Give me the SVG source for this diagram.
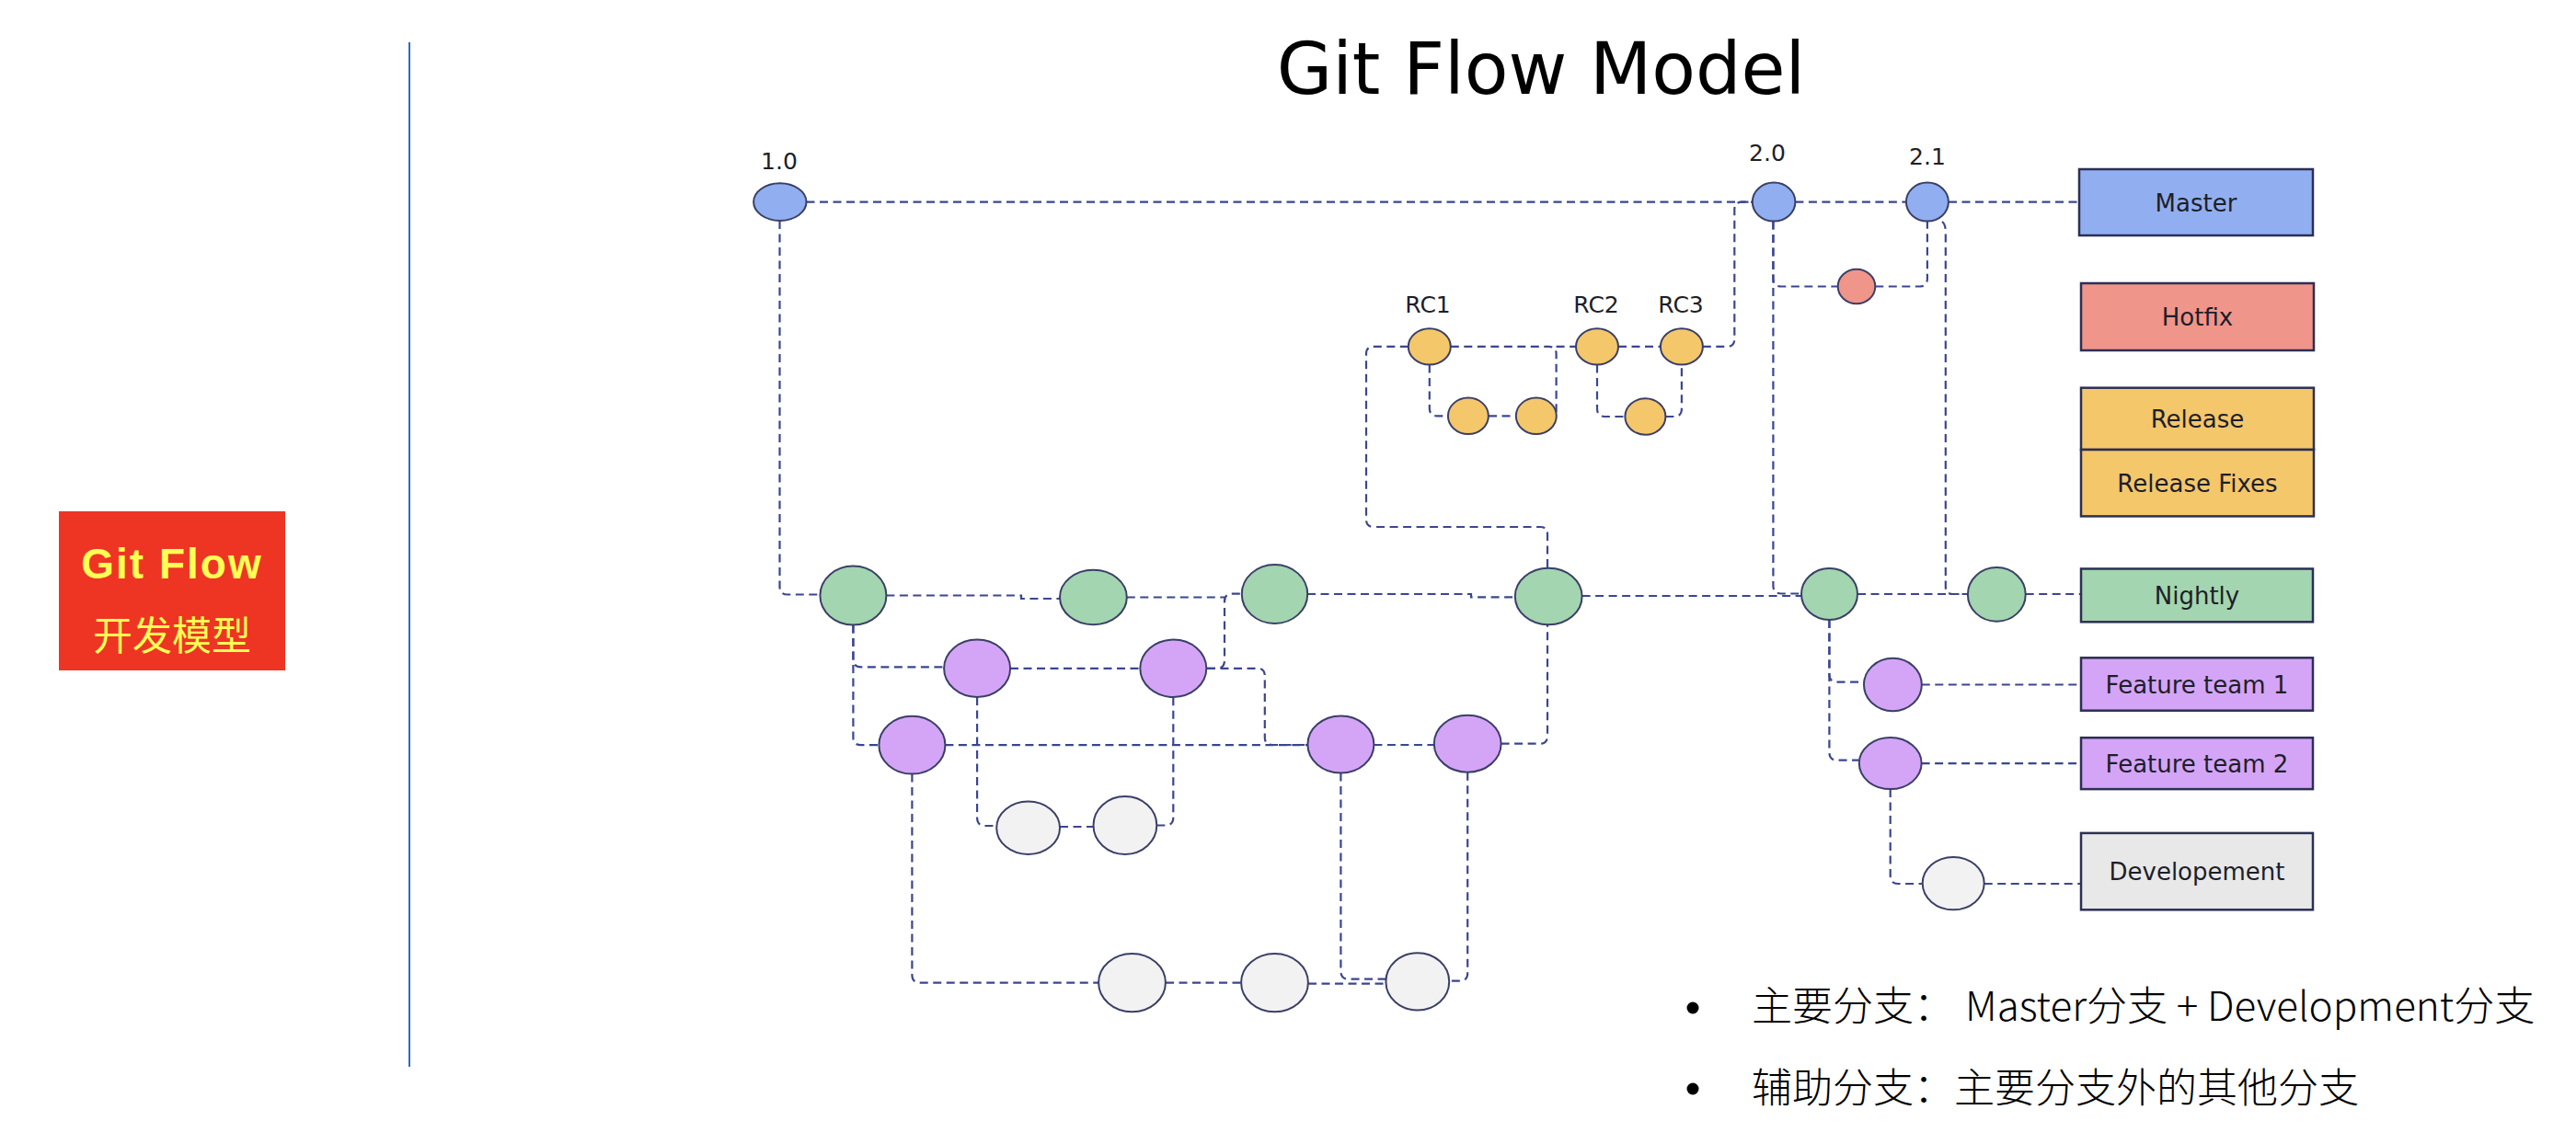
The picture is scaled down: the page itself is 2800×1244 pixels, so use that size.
<svg xmlns="http://www.w3.org/2000/svg" width="2800" height="1244" viewBox="0 0 2800 1244">
<style>
.c{fill:none;stroke:#3B4690;stroke-width:2.2;stroke-dasharray:9 5.5}
.n{stroke:#3A3F66;stroke-width:2}
.blue{fill:#91AFF0}.red{fill:#F0958A}.yel{fill:#F4C76B}.grn{fill:#A2D5B0}.pur{fill:#D4A5F7}.gry{fill:#F2F2F2}
.box{stroke:#2C2F55;stroke-width:2.5}
.bt{font-family:"DejaVu Sans",Verdana,sans-serif;font-size:26px;fill:#1E1E2A;text-anchor:middle}
.lb{font-family:"DejaVu Sans",Verdana,sans-serif;font-size:25px;fill:#1E1E2A;text-anchor:middle}
.cn{font-family:"Noto Sans CJK SC",sans-serif;font-size:44px;font-weight:300;fill:#000}
</style>
<rect width="2800" height="1244" fill="#fff"/>
<line x1="445" y1="46" x2="445" y2="1160" stroke="#2E6BC4" stroke-width="2"/>
<g id="tag">
<rect x="64" y="556" width="246" height="173" fill="#EE3524"/>
<text x="187" y="629" text-anchor="middle" font-family="Liberation Sans,Arial,sans-serif" font-weight="bold" font-size="46" letter-spacing="2" fill="#FFFF55">Git Flow</text>
<text x="187" y="707" text-anchor="middle" font-family="Noto Sans CJK SC,sans-serif" font-size="43" fill="#FFFF55">开发模型</text>
</g>
<text x="1675" y="102" text-anchor="middle" font-family="DejaVu Sans,Verdana,sans-serif" font-size="78" fill="#000">Git Flow Model</text>
<g id="connectors">
<path class="c" d="M876.5,219.6 H1904.8"/>
<path class="c" d="M1951.4,219.6 H2072"/>
<path class="c" d="M2118,219.6 H2261"/>
<path class="c" d="M847.5,240 V638 Q847.5,646.5 856,646.5 H891.4"/>
<path class="c" d="M963.4,647.5 H1110 V651 H1152"/>
<path class="c" d="M1224.8,649.5 H1331"/>
<path class="c" d="M1312,726.8 H1323 Q1331,726.8 1331,718 V654 Q1331,645.7 1339,645.7 H1349.8"/>
<path class="c" d="M1312,726.8 H1367 Q1374.8,726.8 1374.8,735 V802 Q1374.8,810 1383,810 H1421"/>
<path class="c" d="M1421,646 H1599 V649.4 H1646.8"/>
<path class="c" d="M1719.6,648 H1958"/>
<path class="c" d="M2019,646 H2139"/>
<path class="c" d="M2201.7,646 H2261"/>
<path class="c" d="M2111,241 Q2114.8,244 2114.8,252 V638 Q2114.8,646 2123,646 H2139"/>
<path class="c" d="M1927.4,240.6 V637 Q1927.4,645.5 1936,645.5 H1958"/>
<path class="c" d="M1927.4,240.6 V303 Q1927.4,311.5 1936,311.5 H1998"/>
<path class="c" d="M2038.3,311.5 H2086 Q2094.9,311.5 2094.9,303 V240.6"/>
<path class="c" d="M927.4,679.5 V717 Q927.4,725.3 936,725.3 H1026"/>
<path class="c" d="M927.4,679.5 V802 Q927.4,810.2 936,810.2 H955.4"/>
<path class="c" d="M1098,726.8 H1239.3"/>
<path class="c" d="M1027.4,810.2 H1421.4"/>
<path class="c" d="M1062.1,758 V889 Q1062.1,898 1070.5,898 H1083.2"/>
<path class="c" d="M1152,899 H1188.5"/>
<path class="c" d="M1257.3,897.5 H1267 Q1275.3,897.5 1275.3,889 V758"/>
<path class="c" d="M991.4,841.6 V1060 Q991.4,1068.6 1000,1068.6 H1194"/>
<path class="c" d="M1267,1068.6 H1349"/>
<path class="c" d="M1422,1069.7 H1506.4"/>
<path class="c" d="M1493.4,810 H1558.8"/>
<path class="c" d="M1457.4,840.5 V1056 Q1457.4,1064.7 1466,1064.7 H1507"/>
<path class="c" d="M1595.2,839.7 V1058 Q1595.2,1066.6 1587,1066.6 H1575.2"/>
<path class="c" d="M1631.6,808.7 H1674 Q1682,808.7 1682,800 V679.5"/>
<path class="c" d="M1530.8,376.9 H1493 Q1485,376.9 1485,385 V565 Q1485,573 1493,573 H1674 Q1682,573 1682,581 V617.9"/>
<path class="c" d="M1576.8,376.9 H1683 Q1691.6,376.9 1691.6,385 V452.3"/>
<path class="c" d="M1691.6,376.9 H1713"/>
<path class="c" d="M1553.8,396.6 V444 Q1553.8,452.3 1562,452.3 H1574"/>
<path class="c" d="M1618,452.3 H1648"/>
<path class="c" d="M1759,376.9 H1805"/>
<path class="c" d="M1736,396.6 V444 Q1736,453 1744,453 H1766.4"/>
<path class="c" d="M1810.4,453 H1819.5 Q1827.9,453 1827.9,444.5 V396.6"/>
<path class="c" d="M1850.8,376.9 H1877 Q1885.3,376.9 1885.3,368.5 V228 Q1885.3,219.6 1893.5,219.6 H1904.8"/>
<path class="c" d="M1988.4,674 V733 Q1988.4,741.7 1997,741.7 H2026"/>
<path class="c" d="M1988.4,674 V818 Q1988.4,826.7 1997,826.7 H2020.8"/>
<path class="c" d="M2088.8,744.5 H2261"/>
<path class="c" d="M2088.6,830.1 H2261"/>
<path class="c" d="M2054.7,858 V952 Q2054.7,961 2063,961 H2089.7"/>
<path class="c" d="M2156.7,961 H2261"/>
</g>
<g id="v10"><ellipse class="n blue" cx="847.8" cy="219.6" rx="28.7" ry="20.3"/><text class="lb" x="847" y="184">1.0</text></g>
<g id="v20"><ellipse class="n blue" cx="1928.1" cy="219.6" rx="23.3" ry="21"/><text class="lb" x="1921" y="175">2.0</text></g>
<g id="v21"><ellipse class="n blue" cx="2094.9" cy="219.6" rx="23" ry="21"/><text class="lb" x="2095" y="179">2.1</text></g>
<g id="hotfix1"><ellipse class="n red" cx="2018" cy="311.5" rx="20.3" ry="18.8"/></g>
<g id="rc1"><ellipse class="n yel" cx="1553.8" cy="376.9" rx="23" ry="19.7"/><text class="lb" x="1552" y="340">RC1</text></g>
<g id="rc2"><ellipse class="n yel" cx="1736" cy="376.9" rx="23" ry="19.7"/><text class="lb" x="1735" y="340">RC2</text></g>
<g id="rc3"><ellipse class="n yel" cx="1827.9" cy="376.9" rx="23" ry="19.7"/><text class="lb" x="1827" y="340">RC3</text></g>
<g id="fix1"><ellipse class="n yel" cx="1595.9" cy="452.3" rx="22" ry="19.7"/></g>
<g id="fix2"><ellipse class="n yel" cx="1669.8" cy="452.3" rx="22" ry="19.7"/></g>
<g id="fix3"><ellipse class="n yel" cx="1788.4" cy="453" rx="22" ry="19.7"/></g>
<g id="g1"><ellipse class="n grn" cx="927.4" cy="647.6" rx="36" ry="32"/></g>
<g id="g2"><ellipse class="n grn" cx="1188.4" cy="649.5" rx="36.4" ry="29.7"/></g>
<g id="g3"><ellipse class="n grn" cx="1385.5" cy="646" rx="35.7" ry="32"/></g>
<g id="g4"><ellipse class="n grn" cx="1683.2" cy="648.5" rx="36.4" ry="30.8"/></g>
<g id="g5"><ellipse class="n grn" cx="1988.5" cy="646" rx="30.5" ry="28"/></g>
<g id="g6"><ellipse class="n grn" cx="2170.3" cy="646.4" rx="31.4" ry="29.3"/></g>
<g id="p1"><ellipse class="n pur" cx="1062.1" cy="726.8" rx="36" ry="31.2"/></g>
<g id="p2"><ellipse class="n pur" cx="1275.3" cy="726.8" rx="36" ry="31.2"/></g>
<g id="p3"><ellipse class="n pur" cx="991.4" cy="810.2" rx="36" ry="31.4"/></g>
<g id="p4"><ellipse class="n pur" cx="1457.4" cy="809.5" rx="36" ry="31"/></g>
<g id="p5"><ellipse class="n pur" cx="1595.2" cy="808.7" rx="36.4" ry="31"/></g>
<g id="p6"><ellipse class="n pur" cx="2057.4" cy="744.5" rx="31.4" ry="28.7"/></g>
<g id="p7"><ellipse class="n pur" cx="2054.7" cy="830.1" rx="33.9" ry="28"/></g>
<g id="d1"><ellipse class="n gry" cx="1117.6" cy="900.2" rx="34.4" ry="28.7"/></g>
<g id="d2"><ellipse class="n gry" cx="1222.9" cy="897.5" rx="34.4" ry="31.4"/></g>
<g id="d3"><ellipse class="n gry" cx="1230.5" cy="1068.6" rx="36.4" ry="31.6"/></g>
<g id="d4"><ellipse class="n gry" cx="1385.5" cy="1068.6" rx="36.4" ry="31.6"/></g>
<g id="d5"><ellipse class="n gry" cx="1540.8" cy="1067.4" rx="34.4" ry="31.2"/></g>
<g id="d6"><ellipse class="n gry" cx="2123.2" cy="960.6" rx="33.5" ry="28.7"/></g>
<g id="master"><rect class="box blue" x="2260" y="184" width="254" height="72"/><text class="bt" x="2387" y="229.5">Master</text></g>
<g id="hotfix"><rect class="box red" x="2262" y="308" width="253" height="73"/><text class="bt" x="2388.5" y="354">Hotfix</text></g>
<g id="release"><rect class="box yel" x="2262" y="421.7" width="253" height="67.3"/><text class="bt" x="2388.5" y="465">Release</text></g>
<g id="releasefixes"><rect class="box yel" x="2262" y="489" width="253" height="72.4"/><text class="bt" x="2388.5" y="534.5">Release Fixes</text></g>
<g id="nightly"><rect class="box grn" x="2262" y="618.5" width="252" height="57.8"/><text class="bt" x="2388" y="656.5">Nightly</text></g>
<g id="ft1"><rect class="box pur" x="2262" y="715.3" width="252" height="57.4"/><text class="bt" x="2388" y="753.5">Feature team 1</text></g>
<g id="ft2"><rect class="box pur" x="2262" y="802.2" width="252" height="55.9"/><text class="bt" x="2388" y="839.5">Feature team 2</text></g>
<g id="dev"><rect class="box" fill="#E8E8E8" x="2262" y="905.9" width="252" height="83.4"/><text class="bt" x="2388" y="957">Developement</text></g>
<g id="notes">
<circle cx="1840" cy="1096" r="6.5" fill="#000"/>
<circle cx="1840" cy="1184" r="6.5" fill="#000"/>
<text class="cn" x="1904" y="1110">主要分支：<tspan x="2136">Master分支 + Development分支</tspan></text>
<text class="cn" x="1904" y="1199">辅助分支：主要分支外的其他分支</text>
</g>
</svg>
